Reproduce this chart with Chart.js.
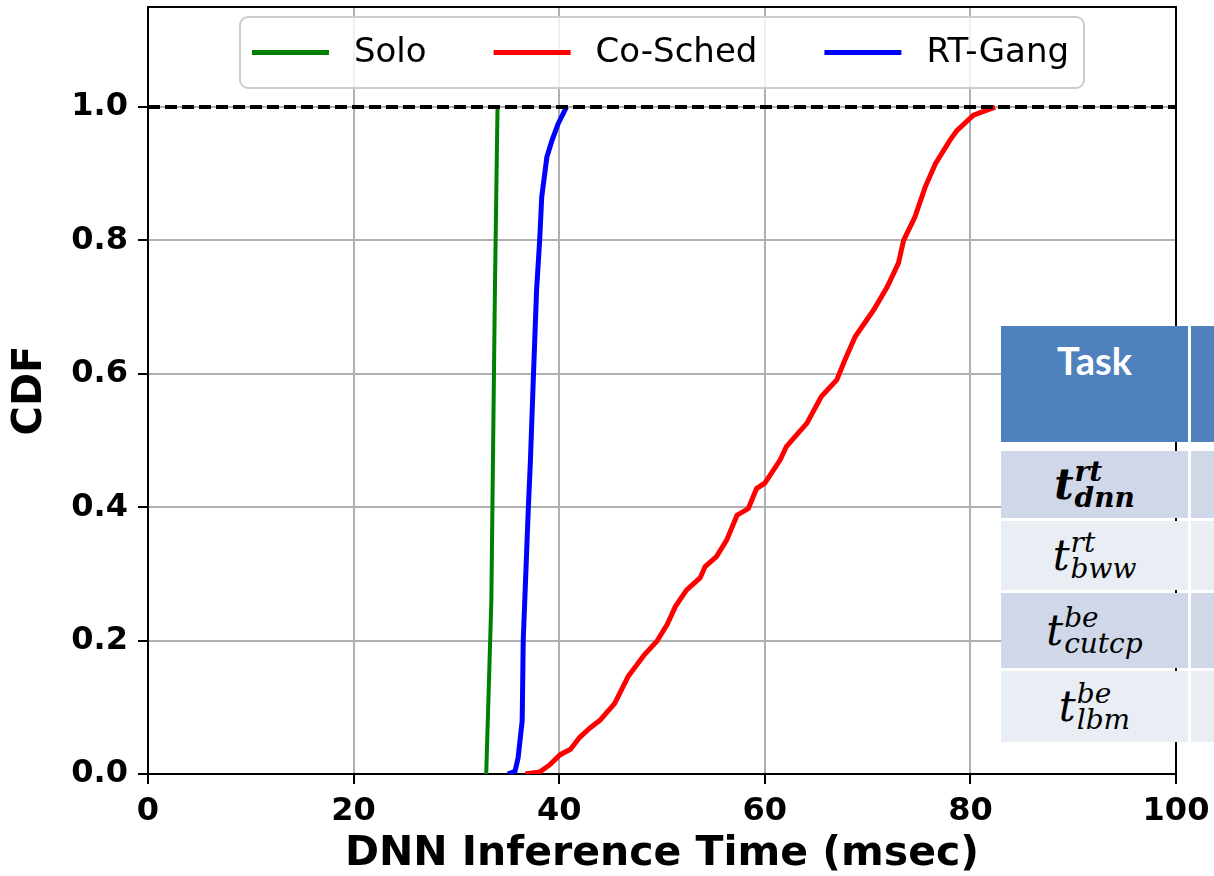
<!DOCTYPE html>
<html>
<head>
<meta charset="utf-8">
<script src="https://cdn.jsdelivr.net/npm/chart.js@4.4.0/dist/chart.umd.min.js"></script>
<style>
  body { margin: 0; background: #fff; }
  #wrap { position: relative; width: 1214px; height: 876px; overflow: hidden; }
  #chart { position: absolute; left: 0; top: 0; }
  .cell { position: absolute; display: flex; align-items: center; justify-content: center; }
  .head { background: #4f81bd; align-items: flex-start; color: #fff;
          font-family: Lato, "Open Sans", sans-serif; font-weight: bold; font-size: 38px; }
  .head span { margin-top: 11px; }
  .dark { background: #d0d7e8; }
  .light { background: #e9edf4; }
  .m { display: inline-flex; align-items: center; font-family: "DejaVu Serif", serif; font-style: italic; color: #000; }
  .m .t { font-size: 42px; }
  .m .ss { display: inline-flex; flex-direction: column; font-size: 28px; line-height: 0.92; margin-left: 1px; }
  .m.bold { font-weight: bold; }
</style>
</head>
<body>
<div id="wrap">
  <canvas id="chart" width="1214" height="876"></canvas>

  <div class="cell head" style="left:1001px; top:326px; width:187px; height:116px;"><span>Task</span></div>
  <div class="cell head" style="left:1191px; top:326px; width:60px; height:116px;"></div>

  <div class="cell dark" style="left:1001px; top:451px; width:187px; height:67px;">
    <span class="m bold"><span class="t">t</span><span class="ss"><span>rt</span><span>dnn</span></span></span>
  </div>
  <div class="cell dark" style="left:1191px; top:451px; width:60px; height:67px;"></div>

  <div class="cell light" style="left:1001px; top:521px; width:187px; height:69px;">
    <span class="m"><span class="t">t</span><span class="ss"><span>rt</span><span>bww</span></span></span>
  </div>
  <div class="cell light" style="left:1191px; top:521px; width:60px; height:69px;"></div>

  <div class="cell dark" style="left:1001px; top:593px; width:187px; height:75px;">
    <span class="m"><span class="t">t</span><span class="ss"><span>be</span><span>cutcp</span></span></span>
  </div>
  <div class="cell dark" style="left:1191px; top:593px; width:60px; height:75px;"></div>

  <div class="cell light" style="left:1001px; top:671px; width:187px; height:71px;">
    <span class="m"><span class="t">t</span><span class="ss"><span>be</span><span>lbm</span></span></span>
  </div>
  <div class="cell light" style="left:1191px; top:671px; width:60px; height:71px;"></div>
</div>

<script>
// tick values
const xTicks = [0, 20, 40, 60, 80, 100];
const yTicks = [0, 0.2, 0.4, 0.6, 0.8, 1.0];

// Solo
const soloX = [32.9, 33.4, 33.75, 34.0];
const soloY = [0, 0.26, 0.73, 1.0];

// Co-Sched
const coSchedX = [36.7, 38.1, 39.1, 40.1, 41.1, 42.0, 43.0, 44.0, 45.4, 46.7, 48.3, 49.5, 50.5, 51.3,
  52.4, 53.7, 54.2, 55.3, 56.3, 57.3, 58.4, 59.2, 60.0, 61.5, 62.1, 64.1, 65.5, 67.0, 67.8, 68.8,
  70.6, 71.9, 73.0, 73.5, 74.6, 75.6, 76.6, 78.0, 78.7, 80.3, 82.4];
const coSchedY = [0, 0.003, 0.014, 0.029, 0.037, 0.055, 0.069, 0.081, 0.106, 0.146, 0.179, 0.199, 0.224, 0.251,
  0.276, 0.294, 0.311, 0.326, 0.351, 0.388, 0.398, 0.428, 0.436, 0.471, 0.491, 0.526, 0.566, 0.591, 0.621, 0.656,
  0.696, 0.730, 0.766, 0.800, 0.835, 0.880, 0.915, 0.950, 0.965, 0.988, 1.0];

// RT-Gang
const rtGangX = [35.0, 35.7, 36.0, 36.4, 36.5, 36.8, 37.0, 37.2, 37.5, 37.8, 38.1, 38.3, 38.8, 39.3, 39.9, 40.7];
const rtGangY = [0, 0.004, 0.024, 0.08, 0.2, 0.32, 0.4, 0.47, 0.6, 0.726, 0.8, 0.865, 0.925, 0.95, 0.975, 1.0];

// dashed reference at CDF = 1
const refX = [0, 100];
const refY = [1.0, 1.0];

const pts = (xs, ys) => xs.map((x, i) => ({ x, y: ys[i] }));

const tickFont = { family: "DejaVu Sans", size: 32, weight: "bold" };

// legend box inside the axes + top/right spines
const framePlugin = {
  id: "frameAndLegend",
  afterDraw(chart) {
    const { ctx, chartArea: a } = chart;
    ctx.save();
    ctx.strokeStyle = "#000";
    ctx.lineWidth = 2;
    ctx.beginPath();
    ctx.moveTo(a.left, a.top);
    ctx.lineTo(a.right, a.top);
    ctx.lineTo(a.right, a.bottom);
    ctx.stroke();

    const items = chart.data.datasets.filter(d => d.inLegend);
    ctx.font = '34px "DejaVu Sans"';
    const handle = 77, gapText = 25, gapCol = 67, padL = 12, padR = 15;
    let w = padL + padR;
    items.forEach((d, i) => {
      w += handle + gapText + ctx.measureText(d.label).width;
      if (i < items.length - 1) w += gapCol;
    });
    const h = 71;
    const bx = (a.left + a.right) / 2 - w / 2;
    const by = a.top + 10;
    ctx.fillStyle = "rgba(255,255,255,0.8)";
    ctx.strokeStyle = "#cccccc";
    ctx.lineWidth = 2;
    ctx.beginPath();
    ctx.roundRect(bx, by, w, h, 8);
    ctx.fill();
    ctx.stroke();

    const cy = by + h / 2;
    let x = bx + padL;
    ctx.textBaseline = "middle";
    ctx.textAlign = "left";
    items.forEach(d => {
      ctx.strokeStyle = d.borderColor;
      ctx.lineWidth = 5;
      ctx.beginPath();
      ctx.moveTo(x, cy);
      ctx.lineTo(x + handle, cy);
      ctx.stroke();
      x += handle + gapText;
      ctx.fillStyle = "#000";
      ctx.fillText(d.label, x, cy + 1);
      x += ctx.measureText(d.label).width + gapCol;
    });
    ctx.restore();
  }
};

new Chart(document.getElementById("chart"), {
  type: "line",
  data: {
    datasets: [
      { label: "Solo", data: pts(soloX, soloY), borderColor: "#008000", borderWidth: 4, order: 3, inLegend: true },
      { label: "Co-Sched", data: pts(coSchedX, coSchedY), borderColor: "#ff0000", borderWidth: 5, order: 2, inLegend: true },
      { label: "RT-Gang", data: pts(rtGangX, rtGangY), borderColor: "#0000ff", borderWidth: 5, order: 1, inLegend: true },
      { label: "", data: pts(refX, refY), borderColor: "#000", borderWidth: 4, borderDash: [12, 5], order: 0 }
    ]
  },
  options: {
    responsive: false,
    devicePixelRatio: 1,
    animation: false,
    elements: { point: { radius: 0 }, line: { tension: 0 } },
    layout: { padding: { top: 7, right: 38, left: 0, bottom: 0 } },
    plugins: { legend: { display: false }, tooltip: { enabled: false } },
    scales: {
      x: {
        type: "linear", min: 0, max: 100,
        afterBuildTicks: s => { s.ticks = xTicks.map(v => ({ value: v })); },
        ticks: { color: "#000", font: tickFont, padding: 8, maxRotation: 0, autoSkip: false },
        grid: { color: "#b0b0b0", lineWidth: 2, tickLength: 10, tickColor: "#000", tickWidth: 2 },
        border: { color: "#000", width: 2 },
        title: {
          display: true, text: "DNN Inference Time (msec)", color: "#000",
          font: { family: "DejaVu Sans", size: 41, weight: "bold", lineHeight: 1 },
          padding: { top: 0, bottom: 1 }
        },
        afterFit: s => { s.height = 102; s.paddingLeft = 0; s.paddingRight = 0; }
      },
      y: {
        type: "linear", min: 0, max: 1.15,
        afterBuildTicks: s => { s.ticks = yTicks.map(v => ({ value: v })); },
        ticks: { color: "#000", font: tickFont, padding: 10, callback: v => v.toFixed(1) },
        grid: { color: "#b0b0b0", lineWidth: 2, tickLength: 10, tickColor: "#000", tickWidth: 2 },
        border: { color: "#000", width: 2 },
        title: {
          display: true, text: "CDF", color: "#000",
          font: { family: "DejaVu Sans", size: 40, weight: "bold", lineHeight: 1 },
          padding: { top: 11, bottom: 0 }
        },
        afterFit: s => { s.width = 148; s.paddingTop = 0; s.paddingBottom = 0; }
      }
    }
  },
  plugins: [framePlugin]
});
</script>
</body>
</html>
